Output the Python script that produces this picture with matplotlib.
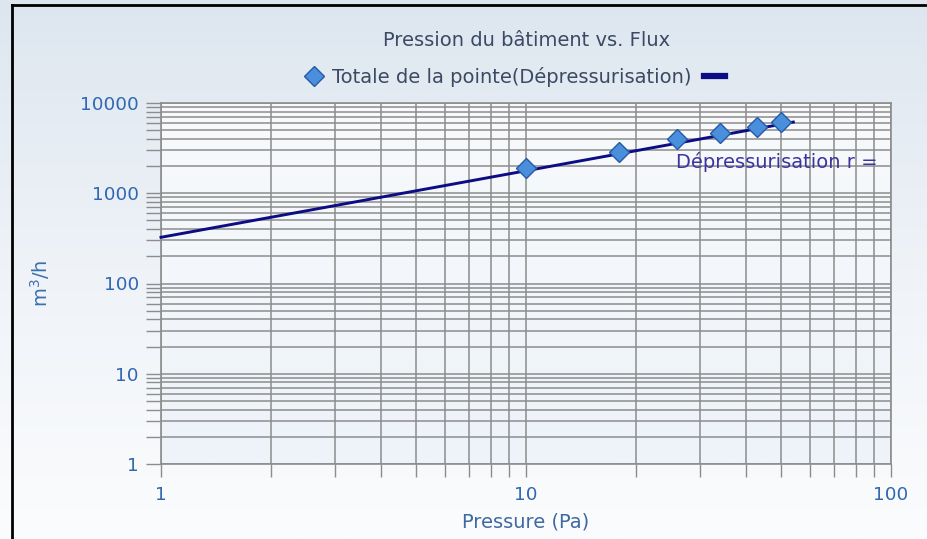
import numpy as np
import matplotlib
matplotlib.use("Agg")
import matplotlib.pyplot as plt
from matplotlib.lines import Line2D
from matplotlib.ticker import LogLocator, NullFormatter, FixedLocator, FixedFormatter
from matplotlib.colors import LinearSegmentedColormap

# Measured points (pressure in Pa, flow in m3/h)
pressure_pa = [10, 18, 26, 34, 43, 50]
flow_m3h = [1900, 2850, 3950, 4650, 5450, 6100]

# Fitted power-law line, end points
fit_pressure = [1, 54]
fit_flow = [325, 6150]

x_ticks = [1, 10, 100]
x_tick_labels = ["1", "10", "100"]
y_ticks = [1, 10, 100, 1000, 10000]
y_tick_labels = ["1", "10", "100", "1000", "10000"]

title = "Pression du bâtiment vs. Flux"
series_label = "Totale de la pointe(Dépressurisation)"
fit_label = "Dépressurisation r ="

plt.rcParams["font.family"] = ["DejaVu Sans"]
FS = 14

W, H = 927, 539
fig = plt.figure(figsize=(W / 100, H / 100), dpi=100)
fig.patch.set_facecolor("white")

# Figure background gradient
bg = fig.add_axes([0, 0, 1, 1], zorder=-10)
bg_cmap = LinearSegmentedColormap.from_list("bg", ["#dde6ef", "#eff3f8", "#fbfcfd"])
grad = np.linspace(0, 1, 256).reshape(-1, 1)
bg.imshow(grad, aspect="auto", cmap=bg_cmap, extent=[0, 1, 0, 1], origin="upper")
bg.set_axis_off()

left, right = 161 / W, 891 / W
bottom, top = 1 - 464 / H, 1 - 103 / H
ax = fig.add_axes([left, bottom, right - left, top - bottom])
ax.set_xscale("log")
ax.set_yscale("log")
ax.set_xlim(1, 100)
ax.set_ylim(1, 10000)
ax.patch.set_alpha(0)

# Plot area gradient
pa_cmap = LinearSegmentedColormap.from_list("pa", ["#f8fafc", "#eef3f9"])
ax.imshow(grad, aspect="auto", cmap=pa_cmap, extent=[0, 1, 0, 1],
          origin="upper", transform=ax.transAxes, zorder=0)

grid_color = "#8c8c8c"
tick_color = "#2f68b2"

for axis, ticks, labels in ((ax.xaxis, x_ticks, x_tick_labels),
                            (ax.yaxis, y_ticks, y_tick_labels)):
    axis.set_major_locator(FixedLocator(ticks))
    axis.set_major_formatter(FixedFormatter(labels))
    axis.set_minor_locator(LogLocator(base=10, subs=np.arange(2, 10)))
    axis.set_minor_formatter(NullFormatter())

ax.grid(True, which="both", color=grid_color, linewidth=1.1, zorder=1)
ax.set_axisbelow(True)
for s in ax.spines.values():
    s.set_color(grid_color)
    s.set_linewidth(1.2)

ax.tick_params(axis="y", which="both", direction="out", length=11,
               width=1.0, color=grid_color, labelcolor=tick_color,
               labelsize=FS - 0.8, pad=5)
ax.tick_params(axis="x", which="both", direction="out", length=9,
               width=1.0, color=grid_color, labelcolor=tick_color,
               labelsize=FS - 0.8, pad=7)

ax.set_xlabel("Pressure (Pa)", color="#3d6aa0", fontsize=FS, labelpad=6)
ax.set_ylabel("m$^3$/h", color="#3a6fb0", fontsize=FS, labelpad=20)

# Fitted line and measured points
ax.plot(fit_pressure, fit_flow, color="#0c0c85", linewidth=2.1,
        solid_capstyle="projecting", zorder=4, clip_on=False)
ax.plot(pressure_pa, flow_m3h, linestyle="none", marker="D", markersize=10,
        markerfacecolor="#4a8fdc", markeredgecolor="#2858a8",
        markeredgewidth=1.0, zorder=5, clip_on=False)

ax.text((676 - 161) / 730, (464 - 162) / 361, fit_label,
        transform=ax.transAxes, color="#3b35a0", fontsize=FS,
        ha="left", va="center", zorder=6)

fig.text(527 / W, 1 - 40 / H, title, color="#3b4a63", fontsize=FS,
         ha="center", va="center")

# Legend
marker_handle = Line2D([], [], linestyle="none", marker="D", markersize=10,
                       markerfacecolor="#4a8fdc", markeredgecolor="#2858a8")
line_handle = Line2D([], [], color="#0c0c85", linewidth=4.5)
leg = fig.legend([marker_handle, line_handle], [series_label, ""],
                 loc="center", bbox_to_anchor=(518 / W, 1 - 77 / H),
                 ncol=2, frameon=False, fontsize=FS, handlelength=1.1,
                 handletextpad=0.4, columnspacing=0.6)
for t in leg.get_texts():
    t.set_color("#3b4a63")

# Outer frame (left and top edges)
fig.add_artist(Line2D([12 / W, 12 / W], [0, 1 - 5 / H], transform=fig.transFigure,
                      color="black", linewidth=2.0))
fig.add_artist(Line2D([12 / W, 1], [1 - 5 / H, 1 - 5 / H], transform=fig.transFigure,
                      color="black", linewidth=2.0))

fig.savefig("out.png", dpi=100)
